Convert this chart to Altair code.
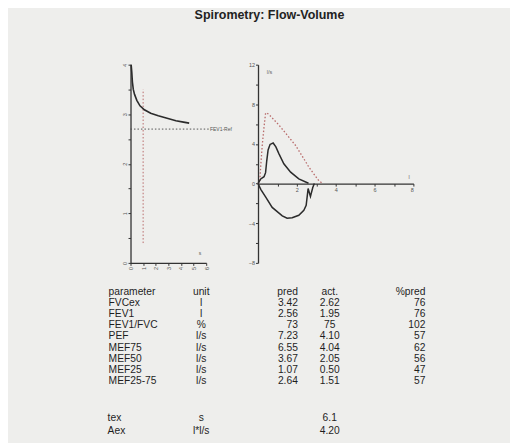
import altair as alt
import pandas as pd

FONT = "Liberation Sans"
INK = "#2b2b2b"
TXT = "#1e1e1e"
REDDOT = "#b86a6a"

title_text = "Spirometry: Flow-Volume"

# ---------------- Volume-time panel ----------------
vt_time = [0.05, 0.1, 0.15, 0.22, 0.32, 0.5, 0.75, 1.1, 1.6, 2.2, 2.9, 3.6, 4.2, 4.65]
vt_volume = [4.0, 3.85, 3.65, 3.5, 3.4, 3.28, 3.17, 3.09, 3.02, 2.97, 2.92, 2.87, 2.84, 2.82]
fev1_ref_level = [2.7]
fev1_ref_end = [6.2]
one_second = [1.0]
one_second_from = [0.4]
one_second_to = [3.5]
vt_notes = ["FEV1-Ref", "s"]
vt_note_x = [6.3, 5.4]
vt_note_y = [2.7, 0.2]

# ---------------- Flow-volume panel ----------------
ref_volume = [0.0, 0.09, 0.14, 0.22, 0.31, 0.39, 0.45, 0.6, 1.08, 1.5, 1.93, 2.3, 2.62, 2.9, 3.13, 3.33]
ref_flow = [0.0, 0.2, 1.8, 3.9, 5.7, 7.1, 7.15, 6.9, 5.9, 4.9, 3.86, 2.7, 1.66, 0.9, 0.3, 0.0]
exp_volume = [0.0, 0.14, 0.31, 0.39, 0.45, 0.52, 0.62, 0.78, 0.92, 1.08, 1.33, 1.68, 2.1, 2.6]
exp_flow = [0.0, 0.47, 0.7, 1.1, 2.3, 3.4, 3.95, 4.1, 3.7, 3.0, 2.0, 1.15, 0.47, 0.03]
insp_volume = [0.0, 0.15, 0.39, 0.73, 1.25, 1.5, 1.76, 2.1, 2.36, 2.48, 2.58, 2.7, 2.82, 2.9]
insp_flow = [0.0, -0.6, -1.35, -2.4, -3.25, -3.5, -3.45, -3.2, -2.7, -2.2, -0.5, -1.3, -0.4, 0.0]
fv_notes = ["l/s", "l"]
fv_note_x = [0.45, 7.75]
fv_note_y = [11.3, 0.7]

# ---------------- Table ----------------
header = ["parameter", "unit", "pred", "act.", "%pred"]
parameters = ["FVCex", "FEV1", "FEV1/FVC", "PEF", "MEF75", "MEF50", "MEF25", "MEF25-75"]
units = ["l", "l", "%", "l/s", "l/s", "l/s", "l/s", "l/s"]
pred = ["3.42", "2.56", "73", "7.23", "6.55", "3.67", "1.07", "2.64"]
act = ["2.62", "1.95", "75", "4.10", "4.04", "2.05", "0.50", "1.51"]
pct_pred = ["76", "76", "102", "57", "62", "56", "47", "57"]

extra_params = ["tex", "Aex"]
extra_units = ["s", "l*l/s"]
extra_values = ["6.1", "4.20"]


def curve(xs, ys):
    return pd.DataFrame({"x": xs, "y": ys, "i": list(range(len(xs)))})


axis_style = dict(domainColor="#333333", domainWidth=1.3, tickColor="#333333",
                  tickSize=2.5, tickWidth=1, labelFontSize=5.5, labelColor="#555555",
                  labelFont=FONT, grid=False, title=None, labelPadding=1)

# ---- left panel ----
lx = alt.X("x:Q", scale=alt.Scale(domain=[0, 6], nice=False),
           axis=alt.Axis(values=list(range(7)), labelAngle=270, **axis_style))
ly = alt.Y("y:Q", scale=alt.Scale(domain=[0, 4], nice=False),
           axis=alt.Axis(values=[i * 0.5 for i in range(9)], labelAngle=270,
                         labelExpr="datum.value % 1 == 0 ? format(datum.value, 'd') : ''",
                         **axis_style))

vt_line = alt.Chart(curve(vt_time, vt_volume)).mark_line(
    color=INK, strokeWidth=1.6).encode(x=lx, y=ly, order="i:Q")
h_ref = alt.Chart(pd.DataFrame({"x": [0.0], "x2": fev1_ref_end, "y": fev1_ref_level})).mark_rule(
    color="#555555", strokeDash=[1.5, 2], strokeWidth=1).encode(x=lx, x2="x2:Q", y=ly)
v_ref = alt.Chart(pd.DataFrame({"x": one_second, "y": one_second_from, "y2": one_second_to})).mark_rule(
    color=REDDOT, strokeDash=[1.5, 2], strokeWidth=1).encode(x=lx, y=ly, y2="y2:Q")
vt_txt = alt.Chart(pd.DataFrame({"x": vt_note_x, "y": vt_note_y, "t": vt_notes})).mark_text(
    align="left", baseline="middle", fontSize=5, color="#555555", font=FONT).encode(x=lx, y=ly, text="t:N")

left = alt.layer(h_ref, v_ref, vt_line, vt_txt).properties(width=76, height=199)

# ---- right panel ----
rx = alt.X("x:Q", scale=alt.Scale(domain=[0, 8], nice=False),
           axis=alt.Axis(values=list(range(9)), offset=-79.6,
                         labelExpr="datum.value % 2 == 0 && datum.value > 0 ? datum.label : ''",
                         **axis_style))
ry = alt.Y("y:Q", scale=alt.Scale(domain=[-8, 12], nice=False),
           axis=alt.Axis(values=list(range(-8, 13, 2)),
                         labelExpr="datum.value % 4 == 0 ? datum.label : ''", **axis_style))

ref_line = alt.Chart(curve(ref_volume, ref_flow)).mark_line(
    color=REDDOT, strokeDash=[1.5, 2], strokeWidth=1.3).encode(x=rx, y=ry, order="i:Q")
exp_line = alt.Chart(curve(exp_volume, exp_flow)).mark_line(
    color=INK, strokeWidth=1.5).encode(x=rx, y=ry, order="i:Q")
insp_line = alt.Chart(curve(insp_volume, insp_flow)).mark_line(
    color=INK, strokeWidth=1.5).encode(x=rx, y=ry, order="i:Q")
fv_txt = alt.Chart(pd.DataFrame({"x": fv_note_x, "y": fv_note_y, "t": fv_notes})).mark_text(
    align="left", baseline="middle", fontSize=5.5, color="#666666", font=FONT).encode(x=rx, y=ry, text="t:N")

right = alt.layer(ref_line, exp_line, insp_line, fv_txt).properties(width=156, height=199)

top = alt.hconcat(left, right, spacing=52, bounds="flush")

# ---- table ----
rows = [header[0]] + parameters
tbl = pd.DataFrame({
    "row": rows,
    "unit": [header[1]] + units,
    "pred": [header[2]] + pred,
    "act": [header[3]] + act,
    "pct": [header[4]] + pct_pred,
})
ty = alt.Y("row:N", scale=alt.Scale(type="point", domain=rows, padding=0.5), axis=None)


def col(df, field, xpos, align, yenc):
    return alt.Chart(df).mark_text(align=align, baseline="middle", fontSize=10.3,
                                   color=TXT, font=FONT).encode(
        x=alt.value(xpos), y=yenc, text=f"{field}:N")


table = alt.layer(
    col(tbl, "row", -22, "left", ty),
    col(tbl, "unit", 71, "center", ty),
    col(tbl, "pred", 168, "right", ty),
    col(tbl, "act", 200, "center", ty),
    col(tbl, "pct", 296, "right", ty),
).properties(width=284, height=101.25)

ext = pd.DataFrame({"row": extra_params, "unit": extra_units, "val": extra_values})
ey = alt.Y("row:N", scale=alt.Scale(type="point", domain=extra_params, padding=1.3), axis=None)
footer = alt.layer(
    col(ext, "row", -23, "left", ey),
    col(ext, "unit", 71, "center", ey),
    col(ext, "val", 200, "center", ey),
).properties(width=284, height=41.4)

chart = alt.vconcat(
    top, table, footer, spacing=16.3,
    title=alt.TitleParams(title_text, fontSize=12.5, fontWeight="bold", font=FONT,
                          anchor="middle", offset=40, dx=3, color="#222222"),
).properties(
    padding={"left": 100, "top": 0, "right": 85, "bottom": 10},
    background="#eeeeec",
).configure_view(stroke=None)

chart.save("out.html", embed_options={"renderer": "svg", "actions": False})
